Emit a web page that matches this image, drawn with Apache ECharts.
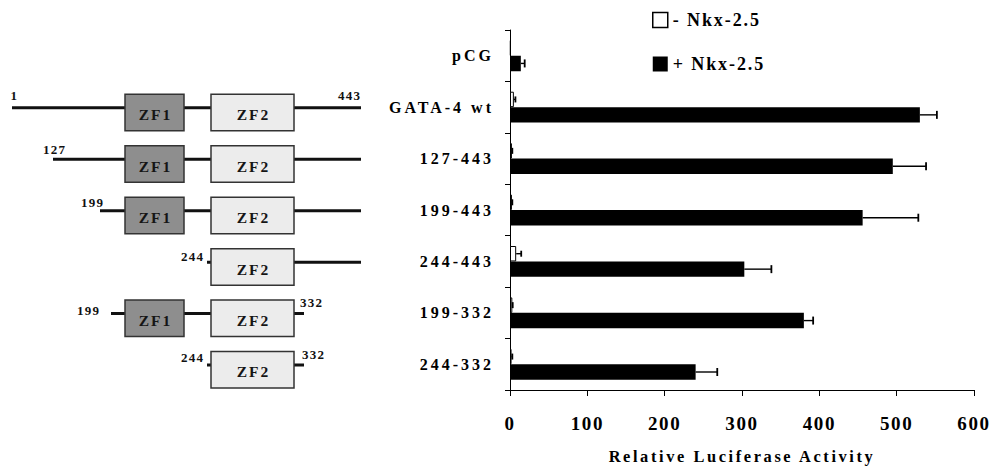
<!DOCTYPE html>
<html>
<head>
<meta charset="utf-8">
<script src="https://cdn.jsdelivr.net/npm/echarts@6.0.0/dist/echarts.min.js"></script>
<style>
html,body{margin:0;padding:0;background:#fff;}
#c{width:992px;height:476px;}
#c text[style*="13px"]{letter-spacing:1.2px;}
#c text[style*="15.5px"]{letter-spacing:2px;}
#c text[style*="16px"]{letter-spacing:3px;}
#c text[style*="16.4px"]{letter-spacing:2.6px;}
#c text[style*="18px"]{letter-spacing:1.9px;}
#c text[style*="19px"]{letter-spacing:1.6px;}
</style>
</head>
<body>
<div id="c"></div>
<script>
// ---------- data ----------
const categories = ['pCG', 'GATA-4 wt', '127-443', '199-443', '244-443', '199-332', '244-332'];
const seriesNames = ['- Nkx-2.5', '+ Nkx-2.5'];
const minusNkx = [1, 5, 2.5, 2.5, 8, 3, 2];
const minusErr = [0, 2, 0.5, 0.5, 6.5, 0.5, 1];
const plusNkx = [14, 530, 495, 456, 303, 380, 240];
const plusErr = [5, 22, 43, 72, 35, 12, 28];
const xTickValues = [0, 100, 200, 300, 400, 500, 600];
const xAxisTitle = 'Relative Luciferase Activity';

// schematic of the constructs (schematic units, not to scale)
const constructs = ['GATA-4 wt', '127-443', '199-443', '244-443', '199-332', '244-332'];
const startLabels = ['1', '127', '199', '244', '199', '244'];
const endLabels = ['443', '', '', '', '332', '332'];
const lineStart = [12, 53, 100, 207, 111, 207];
const lineEnd = [361, 361, 361, 361, 304, 304];
const hasZF1 = [true, true, true, false, true, false];
const zf1Span = [125, 184];
const zf2Span = [211, 294];

// ---------- layout tweaks (labels of the schematic) ----------
const startLabelLayout = [[5, -12.7], [12, -9.3], [3, -8.7], [-4, -6], [-12, -2.7], [-4, -7]];
const endLabelLayout = [[-1, -12.7, 'right'], null, null, null, [-4, -11, 'left'], [-2, -10, 'left']];

const serif = '"Liberation Serif", "Times New Roman", serif';

const chart = echarts.init(document.getElementById('c'), null, {renderer: 'svg'});

function errorBars(values, errs, sign, capH) {
  return {
    type: 'custom',
    xAxisIndex: 0, yAxisIndex: 0,
    z: 5,
    silent: true,
    data: values.map((v, i) => [v, i, errs[i]]),
    encode: {x: 0, y: 1},
    renderItem: function (params, api) {
      const v = api.value(0), cat = api.value(1), e = api.value(2);
      if (!e) return null;
      const p0 = api.coord([v, cat]);
      const p1 = api.coord([v + e, cat]);
      const band = api.size([0, 1])[1];
      const y = p0[1] + sign * band * 0.15;
      return {
        type: 'group',
        children: [
          {type: 'line', shape: {x1: p0[0], y1: y, x2: p1[0], y2: y}, style: {stroke: '#000', lineWidth: 1.4}},
          {type: 'line', shape: {x1: p1[0], y1: y - capH / 2, x2: p1[0], y2: y + capH / 2}, style: {stroke: '#000', lineWidth: 1.8}}
        ]
      };
    }
  };
}

function diagramItem(params, api) {
  const i = params.dataIndex;
  const row = api.value(1);
  const a = api.coord([api.value(0), row]);
  const b = api.coord([api.value(2), row]);
  const y = a[1] + 0.7;
  const kids = [];
  kids.push({type: 'line', shape: {x1: a[0], y1: y, x2: b[0], y2: y}, style: {stroke: '#111', lineWidth: 3}});
  function box(span, fill, label) {
    const s = api.coord([span[0], row]), t = api.coord([span[1], row]);
    kids.push({type: 'rect', shape: {x: s[0], y: y - 13.5, width: t[0] - s[0], height: 36.5},
      style: {fill: fill, stroke: '#333', lineWidth: 1.5}});
    kids.push({type: 'text', style: {text: label, x: (s[0] + t[0]) / 2 + 1, y: y + 7,
      fontSize: 15.5, fontWeight: 'bold', fontFamily: serif, fill: '#151515', align: 'center', verticalAlign: 'middle'}});
  }
  if (hasZF1[i]) box(zf1Span, '#8e8e8e', 'ZF1');
  box(zf2Span, '#ececec', 'ZF2');
  const sl = startLabelLayout[i];
  kids.push({type: 'text', style: {text: startLabels[i], x: a[0] + sl[0] + 1.2, y: y + sl[1],
    fontSize: 13, fontWeight: 'bold', fontFamily: serif, fill: '#111', align: 'right', verticalAlign: 'middle'}});
  const el = endLabelLayout[i];
  if (endLabels[i] && el) {
    kids.push({type: 'text', style: {text: endLabels[i], x: b[0] + el[0] + (el[2] === 'right' ? 1.2 : 0), y: y + el[1],
      fontSize: 13, fontWeight: 'bold', fontFamily: serif, fill: '#111', align: el[2], verticalAlign: 'middle'}});
  }
  return {type: 'group', children: kids};
}

const option = {
  backgroundColor: '#fff',
  animation: false,
  legend: {
    orient: 'vertical',
    left: 652, top: 11,
    padding: 0,
    itemWidth: 15, itemHeight: 15, itemGap: 26,
    selectedMode: false,
    icon: 'rect',
    textStyle: {fontFamily: serif, fontWeight: 'bold', fontSize: 18, color: '#000'},
    data: [
      {name: seriesNames[0], itemStyle: {color: '#fff', borderColor: '#000', borderWidth: 1.5}},
      {name: seriesNames[1], itemStyle: {color: '#000'}}
    ]
  },
  grid: [
    {left: 510, right: 18, top: 30, bottom: 86, outerBoundsMode: 'none'},
    {left: 0, width: 380, top: 30, bottom: 86, outerBoundsMode: 'none'}
  ],
  xAxis: [
    {
      type: 'value', gridIndex: 0, min: xTickValues[0], max: xTickValues[xTickValues.length - 1], interval: 100,
      splitLine: {show: false},
      axisLine: {show: true, lineStyle: {color: '#000', width: 1}},
      axisTick: {show: true, length: 6, lineStyle: {color: '#000'}},
      axisLabel: {margin: 24, fontFamily: serif, fontWeight: 'bold', fontSize: 19, color: '#000'},
      name: xAxisTitle, nameLocation: 'middle', nameGap: 58,
      nameTextStyle: {fontFamily: serif, fontWeight: 'bold', fontSize: 16.4, color: '#000'}
    },
    {type: 'value', gridIndex: 1, min: 0, max: 380, show: false}
  ],
  yAxis: [
    {
      type: 'category', gridIndex: 0, data: categories, inverse: true,
      axisLine: {show: true, lineStyle: {color: '#000', width: 1}},
      axisTick: {show: true, length: 5, lineStyle: {color: '#000'}},
      axisLabel: {margin: 16, fontFamily: serif, fontWeight: 'bold', fontSize: 16, color: '#000', padding: [4, 0, 0, 0]}
    },
    {type: 'category', gridIndex: 1, data: categories, inverse: true, show: false}
  ],
  series: [
    {
      name: seriesNames[0], type: 'bar', xAxisIndex: 0, yAxisIndex: 0,
      data: minusNkx, barWidth: '30%', barGap: '0%',
      itemStyle: {color: '#fff', borderColor: '#000', borderWidth: 1}
    },
    {
      name: seriesNames[1], type: 'bar', xAxisIndex: 0, yAxisIndex: 0,
      data: plusNkx, barWidth: '30%', barGap: '0%',
      itemStyle: {color: '#000'}
    },
    errorBars(minusNkx, minusErr, -1, 6),
    errorBars(plusNkx, plusErr, 1, 8),
    {
      type: 'custom', xAxisIndex: 1, yAxisIndex: 1, silent: true,
      data: constructs.map((name, i) => [lineStart[i], categories.indexOf(name), lineEnd[i]]),
      encode: {x: [0, 2], y: 1},
      renderItem: diagramItem
    }
  ]
};
chart.setOption(option);
</script>
</body>
</html>
